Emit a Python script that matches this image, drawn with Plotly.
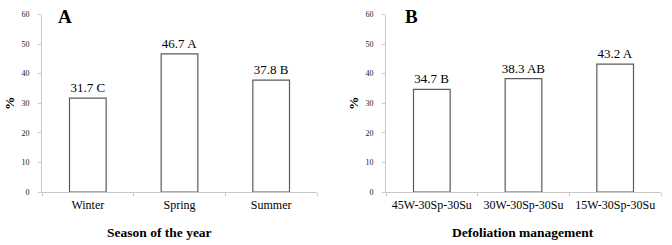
import plotly.graph_objects as go

seasons = ["Winter", "Spring", "Summer"]
season_vals = [31.7, 46.7, 37.8]
season_letters = ["C", "A", "B"]

managements = ["45W-30Sp-30Su", "30W-30Sp-30Su", "15W-30Sp-30Su"]
management_vals = [34.7, 38.3, 43.2]
management_letters = ["B", "AB", "A"]

y_ticks = [0, 10, 20, 30, 40, 50, 60]

FONT = "Liberation Serif, Times New Roman, serif"
W, H = 672, 245

def px(x):
    return x / W

def py(y):
    return 1 - y / H

fig = go.Figure()

for xs, vals, letters, xa, ya in [
    (seasons, season_vals, season_letters, "x", "y"),
    (managements, management_vals, management_letters, "x2", "y2"),
]:
    fig.add_trace(go.Bar(
        x=xs, y=vals,
        text=[f"{v:.1f} {l}" for v, l in zip(vals, letters)],
        textposition="outside", cliponaxis=False, constraintext="none",
        textfont=dict(family=FONT, size=13, color="black"),
        marker=dict(color="white", line=dict(color="#5a5a5a", width=1.2)),
        width=0.4, xaxis=xa, yaxis=ya, showlegend=False,
    ))

ydom = [py(192), py(14.5)]
xcommon = dict(type="category", showline=True, linecolor="#c8c8c8", linewidth=1,
               ticks="outside", tickson="boundaries", ticklen=3, tickcolor="#c8c8c8",
               tickfont=dict(family=FONT, size=12, color="black"), showgrid=False,
               ticklabelstandoff=2,
               zeroline=False, fixedrange=True, automargin=False)
ycommon = dict(range=[0, 60], tickvals=y_ticks, showline=True, linecolor="#c8c8c8",
               linewidth=1, ticks="outside", ticklen=3, tickcolor="#c8c8c8",
               tickfont=dict(family=FONT, size=8, color="#222"), showgrid=False,
               ticklabelstandoff=7,
               zeroline=False, domain=ydom, fixedrange=True, automargin=False)

ann_font = dict(family=FONT, size=13.5, color="black")

def ann(text, x, y, font, angle=0):
    return dict(text=text, x=px(x), y=py(y), xref="paper", yref="paper",
                xanchor="center", yanchor="middle", textangle=angle,
                showarrow=False, font=font)

fig.update_layout(
    width=W, height=H,
    margin=dict(l=0, r=0, t=0, b=0, autoexpand=False),
    paper_bgcolor="white", plot_bgcolor="white",
    xaxis=dict(domain=[px(42), px(317)], anchor="y", **xcommon),
    yaxis=dict(anchor="x", **ycommon),
    xaxis2=dict(domain=[px(386), px(661)], anchor="y2", **xcommon),
    yaxis2=dict(anchor="x2", **ycommon),
    bargap=0.6,
    annotations=[
        ann("<b>A</b>", 65, 16, dict(family=FONT, size=19, color="black")),
        ann("<b>B</b>", 411, 16, dict(family=FONT, size=19, color="black")),
        ann("<b>Season of the year</b>", 159, 232, ann_font),
        ann("<b>Defoliation management</b>", 523, 232, ann_font),
        ann("<b>%</b>", 10, 103, ann_font, -90),
        ann("<b>%</b>", 354, 103, ann_font, -90),
    ],
)

fig.write_html("out.html", config={"displayModeBar": False},
               post_script="document.body.style.margin='0';document.body.style.overflow='hidden';")
